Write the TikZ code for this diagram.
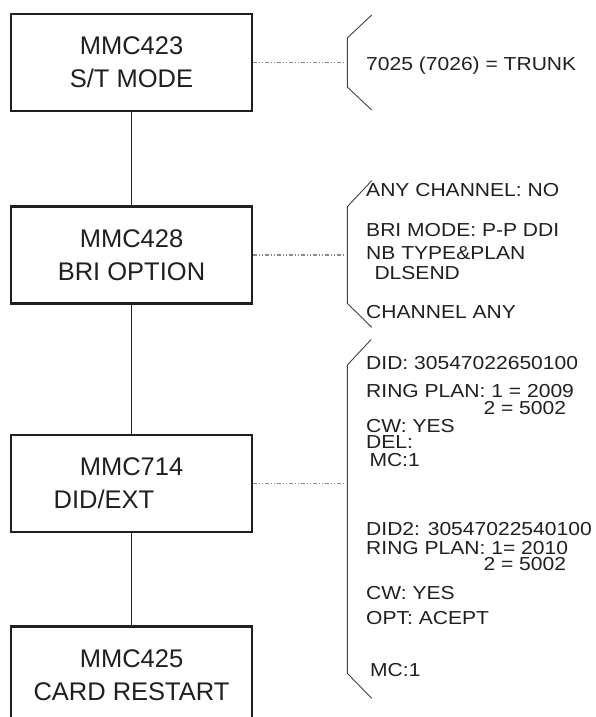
\documentclass[tikz,border=0pt]{standalone}
\usepackage{fontspec}
\setmainfont{Liberation Sans}
\newfontfamily\notefont[FakeStretch=1.12]{Liberation Sans}
\definecolor{ink}{HTML}{231F20}
\definecolor{leader}{HTML}{8A8A8A}
\tikzset{
  mmcbox/.style={draw=ink, line width=2.7pt, minimum width=241pt, minimum height=97pt,
    inner sep=0pt, align=center, text=ink, font=\fontsize{25.5}{33}\selectfont},
  link/.style={draw=ink, line width=1pt},
  leaderline/.style={draw=leader, line width=1.1pt, dash pattern=on 4pt off 2pt on 1pt off 2pt on 1pt off 2pt},
  bracketline/.style={draw=ink!85, line width=0.9pt},
  note/.style={anchor=base west, inner sep=0pt, text=ink, font=\notefont\fontsize{18.8}{18.8}\selectfont}
}
\begin{document}
\begin{tikzpicture}[x=1pt,y=-1pt]
\clip (0,0) rectangle (596,717);
\fill[white] (0,0) rectangle (596,717);

% boxes
\node[mmcbox] (b1) at (131.5,62.5) {MMC423\\S/T MODE};
\node[mmcbox] (b2) at (131.5,255) {MMC428\\BRI OPTION};
\node[mmcbox] (b3) at (131.5,483.5) {MMC714\\\hspace*{-55pt}DID/EXT};
\node[mmcbox] (b4) at (131.5,675) {MMC425\\CARD RESTART};

% vertical links
\draw[link] (b1.south) -- (b2.north);
\draw[link] (b2.south) -- (b3.north);
\draw[link] (b3.south) -- (b4.north);

% bracket anchor coordinates
\coordinate (k1) at (346,62.5);
\coordinate (k2) at (346,255);
\coordinate (k3) at (346,483.5);

\draw[leaderline] (b1.east) -- (k1);
\draw[leaderline] (b2.east) -- (k2);
\draw[leaderline] (b3.east) -- (k3);

% brackets
\draw[bracketline] (371.7,15) -- (347.3,38) -- (347.3,87) -- (371.7,110);
\draw[bracketline] (371.7,180.7) -- (347.3,206.7) -- (347.3,303.3) -- (371.7,327.3);
\draw[bracketline] (371.2,339.5) -- (347.3,365) -- (347.3,673.3) -- (371.7,698.3);

% notes 1
\node[note] (t1) at (366,70.5) {7025 (7026) = TRUNK};

% notes 2
\node[note] (t2a) at (366,196) {ANY CHANNEL: NO};
\node[note] (t2b) at (366,236) {BRI MODE: P-P DDI};
\node[note] (t2c) at (366,259.3) {NB TYPE\&PLAN};
\node[note] (t2d) at (374.3,279.3) {DLSEND};
\node[note] (t2e) at (366,318.3) {CHANNEL ANY};

% notes 3
\node[note] (t3a) at (366,369.3) {DID: 30547022650100};
\node[note] (t3b) at (366,397.7) {RING PLAN: 1 = 2009};
\node[note] (t3c) at (483.3,414) {2 = 5002};
\node[note] (t3d) at (366,432.7) {CW: YES};
\node[note] (t3e) at (366,448) {DEL:};
\node[note] (t3f) at (369.3,466) {MC:1};
\node[note] (t3g) at (366,535) {DID2: 30547022540100};
\node[note] (t3h) at (366,554.3) {RING PLAN: 1= 2010};
\node[note] (t3i) at (483.3,570.5) {2 = 5002};
\node[note] (t3j) at (366,599.3) {CW: YES};
\node[note] (t3k) at (366,624) {OPT: ACEPT};
\node[note] (t3l) at (370,676.7) {MC:1};
\end{tikzpicture}
\end{document}
